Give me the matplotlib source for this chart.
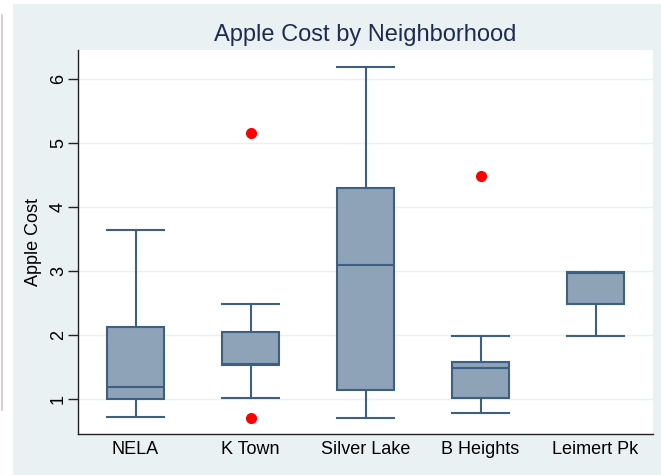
import matplotlib.pyplot as plt
from matplotlib.lines import Line2D
from matplotlib.patches import Rectangle

plt.rcParams['font.family'] = ['Liberation Sans', 'DejaVu Sans']

# Données
neighborhoods = ["NELA", "K Town", "Silver Lake", "B Heights", "Leimert Pk"]
whisker_low = [0.72, 1.02, 0.70, 0.79, 1.99]
q1 = [1.00, 1.54, 1.14, 1.01, 2.49]
median = [1.19, 1.55, 3.09, 1.49, 2.97]
q3 = [2.12, 2.04, 4.29, 1.58, 2.97]
whisker_high = [3.64, 2.48, 6.19, 1.99, 2.99]
outliers = [[], [5.16, 0.71], [], [4.49], []]
y_ticks = [1, 2, 3, 4, 5, 6]

W, H = 661, 475
fig = plt.figure(figsize=(W / 100, H / 100), dpi=100)
fig.patch.set_facecolor("white")

# Fond du graphique (style Stata) et petit trait gris à gauche
fig.patches.append(Rectangle((13 / W, 0), 1 - 13 / W, 1 - 4 / H,
                             transform=fig.transFigure, facecolor="#EAF1F3",
                             edgecolor="none", zorder=-10))
fig.lines.append(Line2D([1.5 / W, 1.5 / W], [1 - 410 / H, 1 - 15 / H],
                        transform=fig.transFigure, color="#C8C8C8", lw=1.2))

left, right, top, bottom = 78, 653, 50, 434
ax = fig.add_axes([left / W, 1 - bottom / H, (right - left) / W, (bottom - top) / H])
ax.set_facecolor("white")

stats = []
for i, name in enumerate(neighborhoods):
    stats.append({
        "label": name,
        "whislo": whisker_low[i],
        "q1": q1[i],
        "med": median[i],
        "q3": q3[i],
        "whishi": whisker_high[i],
        "fliers": outliers[i],
    })

edge = "#3D5F82"
ax.bxp(stats, positions=range(1, 6), widths=0.49, patch_artist=True,
       showfliers=True,
       boxprops=dict(facecolor="#8EA2B8", edgecolor=edge, linewidth=1.5),
       medianprops=dict(color=edge, linewidth=1.5),
       whiskerprops=dict(color=edge, linewidth=1.5),
       capprops=dict(color=edge, linewidth=1.5),
       capwidths=0.49,
       flierprops=dict(marker="o", markerfacecolor="#FF0000",
                       markeredgecolor="#FF0000", markersize=7))

ax.set_xlim(0.5, 5.5)
ax.set_ylim(0.455, 6.45)
ax.set_yticks(y_ticks)
ax.set_yticklabels([str(t) for t in y_ticks], rotation=90, va="center")
ax.grid(axis="y", color="#EAF1F3", linewidth=1.0)
ax.set_axisbelow(True)

for s in ["top", "right"]:
    ax.spines[s].set_visible(False)
for s in ["left", "bottom"]:
    ax.spines[s].set_color("#222222")
    ax.spines[s].set_linewidth(1.0)

ax.tick_params(axis="y", length=7, width=1, color="#222222", labelsize=13, pad=1)
ax.tick_params(axis="x", length=0, labelsize=13, pad=5)
ax.set_ylabel("Apple Cost", fontsize=13, labelpad=6)

fig.text((left + right) / 2 / W, 1 - 35 / H, "Apple Cost by Neighborhood",
         ha="center", va="center", fontsize=17, color="#1E2B4F")

fig.savefig("out.png", dpi=100)
